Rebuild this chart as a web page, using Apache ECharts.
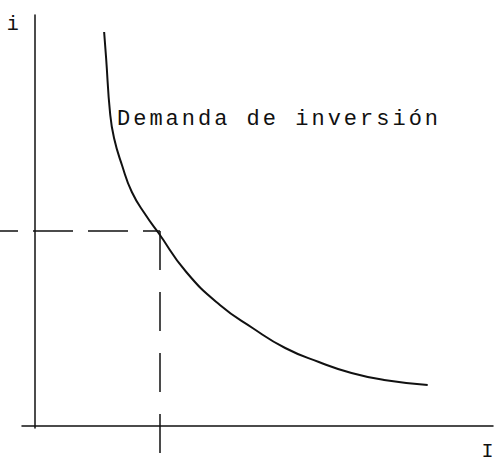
<!DOCTYPE html>
<html style="height: 100%">
<head>
  <meta charset="utf-8">
  <script src="https://cdn.jsdelivr.net/npm/echarts@6/dist/echarts.min.js"></script>
  <style>
    #main text { letter-spacing: 3px; }
  </style>
</head>
<body style="height: 100%; margin: 0; background: #fff">
  <div id="main" style="width: 498px; height: 462px"></div>
  <script type="text/javascript">
    // curva de demanda de inversión (I, i)
    var curveI = [7.0, 7.2, 7.6, 8.0, 8.8, 9.8, 11.2, 12.5, 15.3, 18.7, 22.0, 25.3, 28.7, 32.0, 35.3, 39.7];
    var curveR = [39.4, 36.8, 31.3, 28.8, 26.1, 23.4, 21.1, 19.3, 15.4, 12.1, 9.8, 7.8, 6.4, 5.3, 4.6, 4.1];
    // punto de equilibrio y guías punteadas
    var guideH = [[-3.5, 19.5], [12.5, 19.5]];
    var guideV = [[12.5, 19.5], [12.5, -3.4]];
    var curveLabel = 'Demanda de inversión';
    var xName = 'I';
    var yName = 'i';

    var ink = '#111';
    var font = '"Liberation Mono", "DejaVu Sans Mono", monospace';

    var curveData = curveI.map(function (v, k) { return [v, curveR[k]]; });
    var hidden = { show: false };

    var myChart = echarts.init(document.getElementById('main'), null, { renderer: 'svg' });
    var option = {
      animation: false,
      backgroundColor: '#fff',
      grid: [
        { left: 22, right: 0, top: 15, bottom: 34 },
        // misma escala, ensanchada hasta el borde para las guías
        { left: 0, right: 0, top: 15, bottom: 34 }
      ],
      xAxis: [{
        type: 'value', min: -1.3, max: 46.3, gridIndex: 0,
        name: xName, nameLocation: 'end', nameGap: -4,
        nameTextStyle: { fontFamily: font, fontSize: 20, color: ink, align: 'center', verticalAlign: 'top', padding: [15, 0, 0, 0] },
        axisLine: { onZero: true, lineStyle: { color: ink, width: 1.5 } },
        axisTick: hidden, axisLabel: hidden, splitLine: hidden
      }, {
        type: 'value', min: -3.5, max: 46.3, gridIndex: 1,
        axisLine: hidden, axisTick: hidden, axisLabel: hidden, splitLine: hidden
      }],
      yAxis: [{
        type: 'value', min: -0.2, max: 41.1, gridIndex: 0,
        name: yName, nameLocation: 'end', nameGap: -19,
        nameTextStyle: { fontFamily: font, fontSize: 20, color: ink, align: 'right', verticalAlign: 'bottom', padding: [0, 13, 0, 0] },
        axisLine: { onZero: true, lineStyle: { color: ink, width: 1.5 } },
        axisTick: hidden, axisLabel: hidden, splitLine: hidden
      }, {
        type: 'value', min: -0.2, max: 41.1, gridIndex: 1,
        axisLine: hidden, axisTick: hidden, axisLabel: hidden, splitLine: hidden
      }],
      graphic: [{
        type: 'text', left: 117, top: 108,
        style: { text: curveLabel, font: '22px ' + font, fill: ink }
      }],
      series: [{
        type: 'line', data: curveData, smooth: 0.5, showSymbol: false, clip: false,
        lineStyle: { color: ink, width: 2 }
      }, {
        type: 'line', data: guideH, xAxisIndex: 1, yAxisIndex: 1, showSymbol: false, clip: false,
        lineStyle: { color: ink, width: 1.5, type: [40, 15], dashOffset: 22 }
      }, {
        type: 'line', data: guideV, xAxisIndex: 1, yAxisIndex: 1, showSymbol: false, clip: false,
        lineStyle: { color: ink, width: 1.5, type: [39, 22] }
      }]
    };
    myChart.setOption(option);
  </script>
</body>
</html>
